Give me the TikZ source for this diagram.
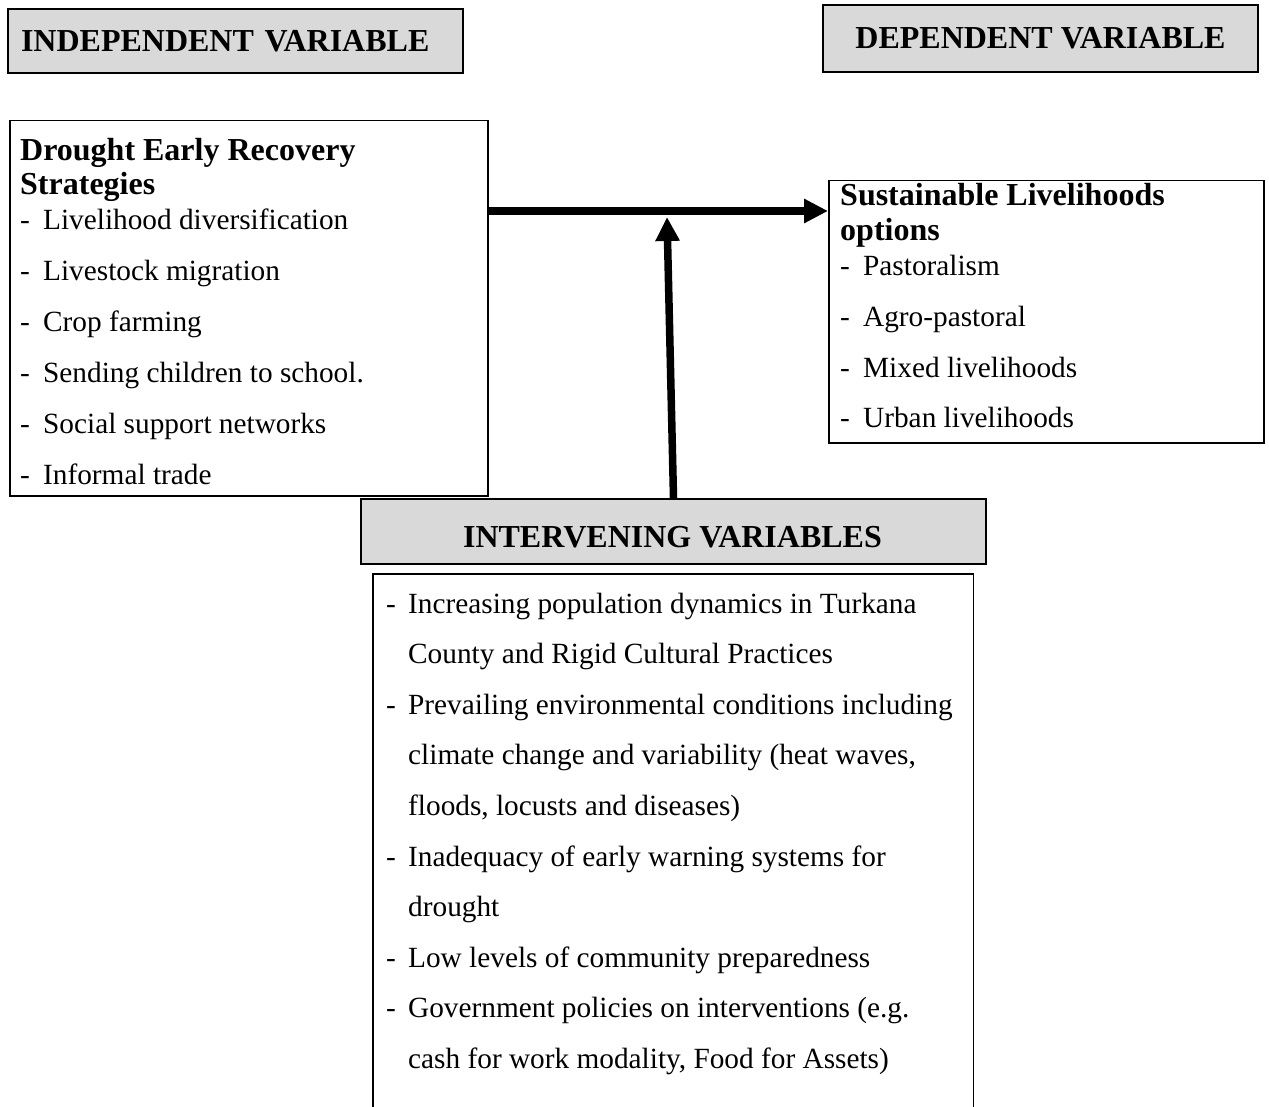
\documentclass[tikz,border=0pt]{standalone}
\usepackage{fontspec}
\setmainfont{Liberation Serif}
\usetikzlibrary{arrows.meta}
\definecolor{hdrgray}{HTML}{D9D9D9}
\begin{document}
\begin{tikzpicture}[x=1pt,y=-1pt,
  hdr/.style={draw=black, line width=2pt, fill=hdrgray, inner sep=0pt, anchor=north west,
              font=\fontsize{32}{38}\selectfont\bfseries},
  cbox/.style={draw=black, line width=1.5pt, inner sep=0pt, anchor=north west},
  htxt/.style={font=\fontsize{32}{38}\selectfont\bfseries, inner sep=0pt, anchor=base west},
  btxt/.style={font=\fontsize{29.3}{35}\selectfont, inner sep=0pt, anchor=base west},
  bigarrow/.style={line width=7.5pt, -{Triangle[width=23pt,length=24pt]}}
]
\useasboundingbox (0,0) rectangle (1269,1107);

% header boxes
\node[hdr, minimum width=455pt, minimum height=64pt, text width=429pt, align=left, inner xsep=13pt] (indep) at (7,8) {INDEPENDENT VARIABLE};
\node[hdr, minimum width=435pt, minimum height=67pt] (dep) at (822,4) {DEPENDENT VARIABLE};
\node[hdr, minimum width=625pt, minimum height=65pt] (ihdr) at (360,498) {};
\node[htxt, anchor=base] (ihdrt) at (672.5,547) {INTERVENING VARIABLES};

% content boxes
\node[cbox, minimum width=478pt, minimum height=375pt] (lbox) at (9,120) {};
\node[cbox, minimum width=435pt, minimum height=262pt] (rbox) at (828,180) {};
\node[anchor=north west, inner sep=0pt, minimum width=600pt, minimum height=540pt] (ibox) at (373,574) {};
\draw[line width=1.5pt] (ibox.south west) |- (ibox.north east) -- (ibox.south east);

% left box text
\node[htxt] (lh1) at (20,161) {Drought Early Recovery};
\node[htxt] (lh2) at (20,195) {Strategies};
\foreach \t [count=\i] in {Livelihood diversification, Livestock migration, Crop farming, Sending children to school., Social support networks, Informal trade}
  \node[btxt] (li\i) at (20,{230+50.8*(\i-1)}) {\makebox[23pt][l]{-}\t};

% right box text
\node[htxt] (rh1) at (840,206) {Sustainable Livelihoods};
\node[htxt] (rh2) at (840,241) {options};
\foreach \t [count=\i] in {Pastoralism, Agro-pastoral, Mixed livelihoods, Urban livelihoods}
  \node[btxt] (ri\i) at (840,{276+50.5*(\i-1)}) {\makebox[23pt][l]{-}\t};

% intervening text
\foreach \t/\d [count=\i] in {
  {Increasing population dynamics in Turkana}/1,
  {County and Rigid Cultural Practices}/0,
  {Prevailing environmental conditions including}/1,
  {climate change and variability (heat waves,}/0,
  {floods, locusts and diseases)}/0,
  {Inadequacy of early warning systems for}/1,
  {drought}/0,
  {Low levels of community preparedness}/1,
  {Government policies on interventions (e.g.}/1,
  {cash for work modality, Food for Assets)}/0}
  {\ifnum\d=1
     \node[btxt] (ii\i) at (386,{613+50.6*(\i-1)}) {\makebox[22pt][l]{-}\t};
   \else
     \node[btxt] (ii\i) at (408,{613+50.6*(\i-1)}) {\t};
   \fi}

% arrows
\coordinate (junc) at (665,211);
\coordinate (vtop) at (667,217);
\draw[bigarrow] (lbox.east |- junc) -- (rbox.west |- junc);
\draw[bigarrow] (ihdr.north) -- (vtop);
\end{tikzpicture}
\end{document}
